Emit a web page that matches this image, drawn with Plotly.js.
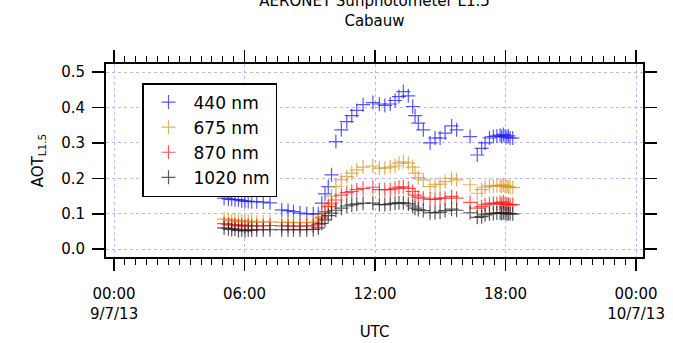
<!DOCTYPE html>
<html>
<head>
<meta charset="utf-8">
<script src="https://cdn.plot.ly/plotly-3.0.1.min.js"></script>
<style>html,body{margin:0;padding:0;background:#fff;}#chart{width:673px;height:343px;}</style>
</head>
<body>
<div id="chart"></div>
<script>
// Time of measurement, hours UTC on 9/7/13
var hoursUTC = [5.06, 5.26, 5.41, 5.56, 5.72, 5.87, 6.02, 6.17, 6.33, 6.56, 6.86, 7.17,
  7.71, 8.0, 8.25, 8.55, 8.86, 9.16, 9.39,
  9.55, 9.70, 9.85, 10.0, 10.2, 10.45, 10.7, 10.93, 11.16, 11.45, 11.9, 12.2, 12.45, 12.7, 12.92,
  13.1, 13.3, 13.53, 13.73, 13.84, 13.99, 14.22, 14.53, 14.76, 14.99, 15.22, 15.52, 15.75,
  16.37, 16.70, 16.90, 17.06, 17.26, 17.44, 17.6, 17.75, 17.82, 17.9, 17.98, 18.06, 18.13, 18.21, 18.33];

var aot440 = [0.144, 0.142, 0.141, 0.140, 0.140, 0.137, 0.136, 0.135, 0.134, 0.134, 0.133, 0.131,
  0.111, 0.109, 0.106, 0.102, 0.100, 0.100, 0.100,
  0.130, 0.156, 0.177, 0.210, 0.304, 0.337, 0.360, 0.377, 0.392, 0.408, 0.414, 0.410, 0.406, 0.410, 0.420,
  0.431, 0.445, 0.433, 0.403, 0.377, 0.356, 0.337, 0.300, 0.314, 0.314, 0.328, 0.348, 0.337,
  0.318, 0.266, 0.285, 0.300, 0.314, 0.318, 0.320, 0.322, 0.318, 0.324, 0.320, 0.316, 0.320, 0.314, 0.314];

var aot675 = [0.085, 0.083, 0.080, 0.082, 0.078, 0.080, 0.077, 0.079, 0.078, 0.076, 0.077, 0.077,
  0.076, 0.076, 0.075, 0.075, 0.075, 0.076, 0.080,
  0.092, 0.106, 0.125, 0.150, 0.177, 0.196, 0.205, 0.215, 0.224, 0.232, 0.235, 0.229, 0.229, 0.232, 0.235,
  0.243, 0.247, 0.243, 0.232, 0.215, 0.202, 0.196, 0.177, 0.182, 0.184, 0.191, 0.200, 0.196,
  0.182, 0.158, 0.168, 0.175, 0.179, 0.178, 0.180, 0.180, 0.178, 0.181, 0.178, 0.177, 0.176, 0.175, 0.174];

var aot870 = [0.072, 0.070, 0.068, 0.069, 0.066, 0.068, 0.065, 0.067, 0.066, 0.066, 0.066, 0.067,
  0.066, 0.066, 0.065, 0.065, 0.066, 0.066, 0.070,
  0.088, 0.106, 0.120, 0.130, 0.139, 0.153, 0.160, 0.163, 0.168, 0.172, 0.175, 0.168, 0.168, 0.168, 0.172,
  0.175, 0.176, 0.172, 0.163, 0.153, 0.147, 0.144, 0.141, 0.141, 0.144, 0.144, 0.149, 0.144,
  0.132, 0.116, 0.120, 0.125, 0.128, 0.130, 0.129, 0.132, 0.127, 0.133, 0.128, 0.126, 0.127, 0.125, 0.126];

var aot1020 = [0.060, 0.058, 0.056, 0.057, 0.053, 0.055, 0.052, 0.054, 0.054, 0.055, 0.055, 0.055,
  0.055, 0.055, 0.055, 0.055, 0.055, 0.056, 0.060,
  0.073, 0.083, 0.095, 0.102, 0.110, 0.116, 0.122, 0.125, 0.128, 0.130, 0.130, 0.126, 0.126, 0.128, 0.130,
  0.131, 0.131, 0.128, 0.122, 0.116, 0.112, 0.109, 0.103, 0.103, 0.105, 0.109, 0.113, 0.110,
  0.103, 0.090, 0.092, 0.097, 0.100, 0.101, 0.102, 0.103, 0.101, 0.103, 0.102, 0.100, 0.101, 0.100, 0.100];

var seriesNames = ['440 nm', '675 nm', '870 nm', '1020 nm'];
var seriesColors = ['#1f1fff', '#d49a2a', '#ff1a1a', '#222222'];
var tickHours = [0, 6, 12, 18, 24];
var tickLabels = ['00:00<br>9/7/13', '06:00', '12:00', '18:00', '00:00<br>10/7/13'];

var seriesValues = [aot440, aot675, aot870, aot1020];
var traces = seriesValues.map(function (vals, i) {
  return {
    x: hoursUTC, y: vals, name: seriesNames[i], type: 'scatter', mode: 'markers',
    marker: {symbol: 'cross-thin-open', size: 10, opacity: 0.75,
             line: {color: seriesColors[i], width: 1.2}, color: seriesColors[i]}
  };
});

var FONT = 'DejaVu Sans, sans-serif';
var layout = {
  width: 673, height: 343,
  margin: {l: 106, r: 30, t: 64, b: 86},
  font: {family: FONT, size: 15, color: '#000'},
  title: {text: 'AERONET Sunphotometer L1.5<br>Cabauw', font: {family: FONT, size: 15, color: '#000'},
          xref: 'paper', x: 0.5, xanchor: 'center', y: 1 - 6 / 343, yanchor: 'top'},
  showlegend: true,
  legend: {x: (142 - 106) / 537, y: (257 - 83) / 193, xanchor: 'left', yanchor: 'top',
           bgcolor: '#fff', bordercolor: '#000', borderwidth: 1.5,
           font: {family: FONT, size: 17, color: '#000'}, itemwidth: 40},
  xaxis: {
    range: [-0.37, 24.32], tickmode: 'array', tickvals: tickHours, ticktext: tickLabels,
    showline: true, linecolor: '#000', linewidth: 2, mirror: 'allticks',
    ticks: 'outside', ticklen: 12, tickwidth: 1.5, tickcolor: '#000',
    minor: {dtick: 0.5, tick0: 0, ticks: 'outside', ticklen: 6, tickwidth: 1, tickcolor: '#000', showgrid: false},
    showgrid: true, gridcolor: '#b8b8ff', griddash: 'dot', zeroline: false,
    ticklabelstandoff: 10,
    tickfont: {family: FONT, size: 15, color: '#000'},
    title: {text: 'UTC', font: {family: FONT, size: 15, color: '#000'}, standoff: 5}
  },
  yaxis: {
    range: [-0.022, 0.523], tickmode: 'linear', tick0: 0, dtick: 0.1, tickformat: '.1f',
    showline: true, linecolor: '#000', linewidth: 2, mirror: 'allticks',
    ticks: 'outside', ticklen: 12, tickwidth: 1.5, tickcolor: '#000',
    showgrid: true, gridcolor: '#b8b8ff', griddash: 'dot', zeroline: false,
    ticklabelstandoff: 4,
    tickfont: {family: FONT, size: 15, color: '#000'},
    title: {text: 'AOT<sub>L1.5</sub>', font: {family: FONT, size: 15, color: '#000'}, standoff: 14}
  }
};

Plotly.newPlot('chart', traces, layout, {displayModeBar: false, staticPlot: true});
</script>
</body>
</html>
